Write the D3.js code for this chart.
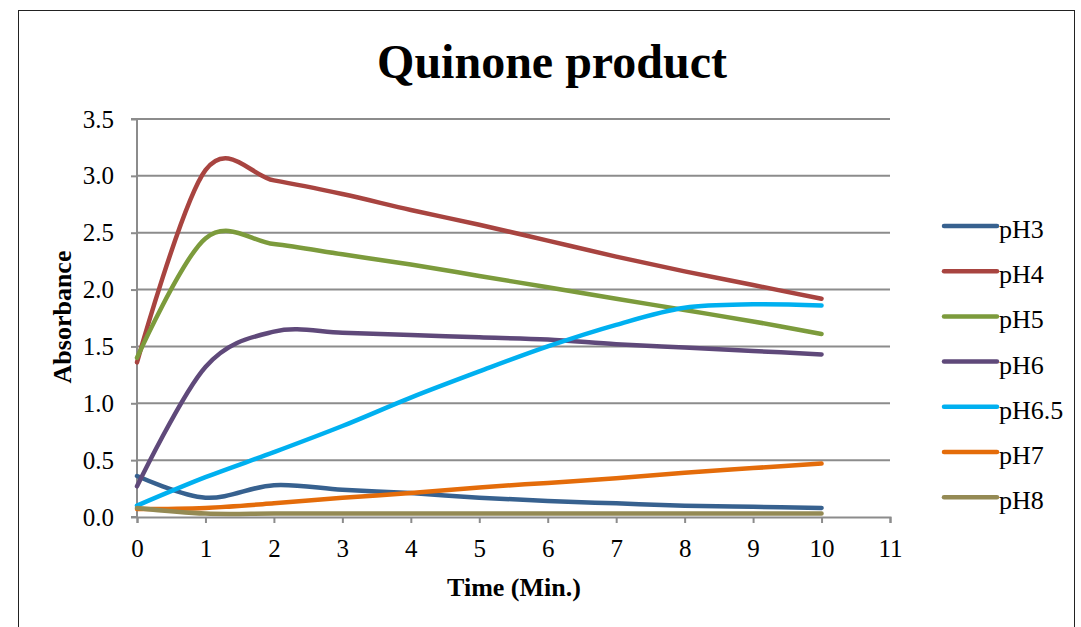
<!DOCTYPE html>
<html><head><meta charset="utf-8">
<script src="https://cdn.jsdelivr.net/npm/d3@7"></script>
<style>html,body{margin:0;padding:0;background:#fff;}svg{display:block;}</style>
</head><body>
<script>
const times = [0,1,2,3,4,5,6,7,8,9,10];
const seriesNames = ["pH3","pH4","pH5","pH6","pH6.5","pH7","pH8"];
const pH3  = [0.36,0.17,0.28,0.24,0.21,0.17,0.14,0.12,0.10,0.09,0.08];
const pH4  = [1.36,3.05,2.96,2.84,2.70,2.57,2.43,2.29,2.16,2.04,1.92];
const pH5  = [1.40,2.45,2.40,2.31,2.22,2.12,2.02,1.92,1.82,1.72,1.61];
const pH6  = [0.27,1.32,1.63,1.62,1.60,1.58,1.56,1.52,1.49,1.46,1.43];
const pH65 = [0.10,0.35,0.57,0.80,1.05,1.28,1.50,1.69,1.84,1.87,1.86];
const pH7  = [0.07,0.08,0.12,0.17,0.21,0.26,0.30,0.34,0.39,0.43,0.47];
const pH8  = [0.08,0.03,0.03,0.03,0.03,0.03,0.03,0.03,0.03,0.03,0.03];
const seriesValues = [pH3,pH4,pH5,pH6,pH65,pH7,pH8];
const colors = ["#37618F","#A84440","#7C9B3C","#5F497A","#00B0F0","#E46C0A","#948A54"];
const xTicks = [0,1,2,3,4,5,6,7,8,9,10,11];
const yTicks = [0,0.5,1.0,1.5,2.0,2.5,3.0,3.5];

const W = 1081, H = 627;
const svg = d3.select("body").append("svg").attr("width",W).attr("height",H);
const font = "'Liberation Serif','Times New Roman',serif";

svg.append("rect").attr("x",18.5).attr("y",10.5).attr("width",1056).attr("height",700)
  .attr("fill","#fff").attr("stroke","#222").attr("stroke-width",1);

const x = d3.scaleLinear().domain([0,11]).range([137,890]);
const y = d3.scaleLinear().domain([0,3.5]).range([517,119]);

// gridlines
svg.append("g").selectAll("line").data(yTicks.filter(d=>d>0)).join("line")
  .attr("x1",x(0)).attr("x2",x(11)).attr("y1",d=>y(d)).attr("y2",d=>y(d))
  .attr("stroke","#8c8c8c").attr("stroke-width",2);

// y axis
const ya = svg.append("g").attr("transform",`translate(${x(0)},0)`)
  .call(d3.axisLeft(y).tickValues(yTicks).tickFormat(d3.format(".1f")).tickSize(6).tickPadding(17));
// x axis
const xa = svg.append("g").attr("transform",`translate(0,${y(0)})`)
  .call(d3.axisBottom(x).tickValues(xTicks).tickFormat(d3.format("d")).tickSize(6).tickPadding(16));
[ya,xa].forEach(a=>{
  a.select(".domain").attr("stroke","#8c8c8c").attr("stroke-width",2);
  a.selectAll(".tick line").attr("stroke","#8c8c8c").attr("stroke-width",2);
  a.selectAll(".tick text").attr("font-family",font).attr("font-size",25).attr("fill","#000");
});
ya.select(".domain").attr("d",`M-6,${y(3.5)}H0V${y(0)}H-6`);

// lines
const line = d3.line().x((d,i)=>x(times[i])).y(d=>y(d)).curve(d3.curveCatmullRom.alpha(0));
svg.append("g").selectAll("path").data(seriesValues).join("path")
  .attr("d",d=>line(d)).attr("fill","none")
  .attr("stroke",(d,i)=>colors[i]).attr("stroke-width",4.5)
  .attr("stroke-linecap","round").attr("stroke-linejoin","round");

// title
svg.append("text").attr("x",552).attr("y",78).attr("text-anchor","middle")
  .attr("font-family",font).attr("font-weight","bold").attr("font-size",48).text("Quinone product");
// axis titles
svg.append("text").attr("x",514).attr("y",596).attr("text-anchor","middle")
  .attr("font-family",font).attr("font-weight","bold").attr("font-size",26).text("Time (Min.)");
svg.append("text").attr("transform","translate(71,317) rotate(-90)").attr("text-anchor","middle")
  .attr("font-family",font).attr("font-weight","bold").attr("font-size",26).text("Absorbance");

// legend
const lg = svg.append("g").selectAll("g").data(seriesNames).join("g")
  .attr("transform",(d,i)=>`translate(0,${226+i*45.2})`);
lg.append("line").attr("x1",944).attr("x2",997).attr("y1",0).attr("y2",0)
  .attr("stroke",(d,i)=>colors[i]).attr("stroke-width",4.5).attr("stroke-linecap","round");
lg.append("text").attr("x",999).attr("y",12).attr("font-family",font).attr("font-size",26).text(d=>d);
</script>
</body></html>
